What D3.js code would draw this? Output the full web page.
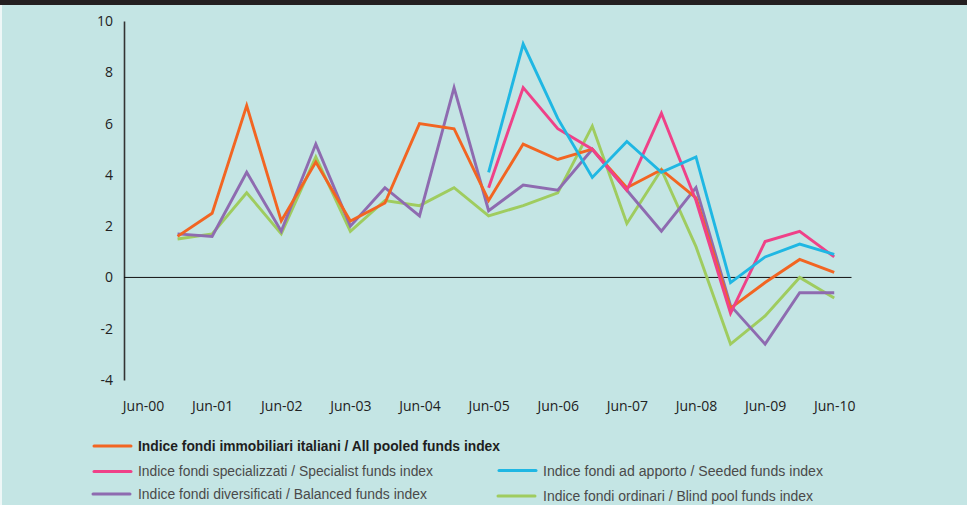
<!DOCTYPE html>
<html><head><meta charset="utf-8">
<script src="https://cdn.jsdelivr.net/npm/d3@7"></script>
<style>
html,body{margin:0;padding:0;background:#c4e5e4;}
svg{display:block;}
</style></head>
<body>
<svg id="c" width="967" height="505"></svg>
<script>
const periods = ["Jun-00","Dec-00","Jun-01","Dec-01","Jun-02","Dec-02","Jun-03","Dec-03","Jun-04","Dec-04","Jun-05","Dec-05","Jun-06","Dec-06","Jun-07","Dec-07","Jun-08","Dec-08","Jun-09","Dec-09","Jun-10"];
const xTickLabels = ["Jun-00","Jun-01","Jun-02","Jun-03","Jun-04","Jun-05","Jun-06","Jun-07","Jun-08","Jun-09","Jun-10"];
const yTicks = [-4,-2,0,2,4,6,8,10];

const allPooled  = [null,1.6,2.5,6.7,2.2,4.5,2.2,2.9,6.0,5.8,3.0,5.2,4.6,5.0,3.5,4.2,3.1,-1.2,-0.2,0.7,0.2];
const specialist = [null,null,null,null,null,null,null,null,null,null,3.5,7.4,5.8,5.0,3.4,6.4,3.0,-1.4,1.4,1.8,0.8];
const seeded     = [null,null,null,null,null,null,null,null,null,null,4.1,9.1,6.2,3.9,5.3,4.1,4.7,-0.2,0.8,1.3,0.9];
const balanced   = [null,1.7,1.6,4.1,1.8,5.2,2.0,3.5,2.4,7.4,2.6,3.6,3.4,5.0,3.4,1.8,3.5,-1.1,-2.6,-0.6,-0.6];
const blindPool  = [null,1.5,1.7,3.3,1.7,4.7,1.8,3.0,2.8,3.5,2.4,2.8,3.3,5.9,2.1,4.2,1.2,-2.6,-1.5,0.0,-0.8];

const seriesNames = [
  "Indice fondi immobiliari italiani / All pooled funds index",
  "Indice fondi specializzati / Specialist funds index",
  "Indice fondi ad apporto / Seeded funds index",
  "Indice fondi diversificati / Balanced funds index",
  "Indice fondi ordinari / Blind pool funds index"
];
const seriesColors = ["#f26522","#ef4188","#1fb7e3","#8e6bb0","#9fcc5f"];

const svg = d3.select("#c");
svg.append("rect").attr("x",0).attr("y",0).attr("width",967).attr("height",505).attr("fill","#c4e5e4");
svg.append("rect").attr("x",0).attr("y",0).attr("width",2).attr("height",505).attr("fill","#eef7f7");
svg.append("rect").attr("x",0).attr("y",0).attr("width",967).attr("height",5).attr("fill","#231f20");

const x = d3.scaleLinear().domain([-0.55, 20.5]).range([124, 851.5]);
const y = d3.scaleLinear().domain([-4, 10]).range([380, 21]);

const font = "'Open Sans', 'Noto Sans', sans-serif";

// y axis
const yAxis = d3.axisLeft(y).tickValues(yTicks).tickSize(0).tickPadding(11).tickFormat(d => String(d));
const ya = svg.append("g").attr("transform","translate(124,0)").call(yAxis);
ya.select(".domain").attr("stroke","#333").attr("stroke-width",1.6);
ya.selectAll("text").attr("font-family",font).attr("font-size",14).attr("fill","#222");

// zero line
svg.append("line").attr("x1",x(-0.55)).attr("x2",x(20.5)).attr("y1",y(0)).attr("y2",y(0))
  .attr("stroke","#111").attr("stroke-width",1);

// x axis labels
const xIdx = xTickLabels.map(l => periods.indexOf(l));
const xAxis = d3.axisBottom(x).tickValues(xIdx).tickSize(0).tickPadding(0)
  .tickFormat(i => periods[i]);
const xa = svg.append("g").attr("transform","translate(0,401)").call(xAxis);
xa.select(".domain").remove();
xa.selectAll("text").attr("font-family",font).attr("font-size",14).attr("fill","#222");

// lines
const allSeries = [allPooled, specialist, seeded, balanced, blindPool];
const line = d3.line().defined(d => d != null).x((d,i) => x(i)).y(d => y(d));
const order = [4,3,0,1,2];
order.forEach(k => {
  svg.append("path").datum(allSeries[k]).attr("d", line)
    .attr("fill","none").attr("stroke",seriesColors[k]).attr("stroke-width",2.9)
    .attr("stroke-linejoin","miter").attr("stroke-linecap","butt");
});

// legend
const lfont = "'Liberation Sans', Arial, sans-serif";
const legendPos = [
  {x:94,  y:446,   tx:138, by:451, w:362, bold:true},
  {x:94,  y:471.5, tx:138, by:476, w:295},
  {x:499, y:470.5, tx:543, by:475.5, w:280},
  {x:93,  y:494,   tx:138, by:499, w:289},
  {x:498, y:496,   tx:543, by:500.5, w:270}
];
legendPos.forEach((p,k) => {
  const g = svg.append("g");
  g.append("line").attr("x1",p.x).attr("x2",p.x+37).attr("y1",p.y).attr("y2",p.y)
    .attr("stroke",seriesColors[k]).attr("stroke-width",3).attr("stroke-linecap","round");
  g.append("text").attr("x",p.tx).attr("y",p.by).text(seriesNames[k])
    .attr("font-family",lfont).attr("font-size",14)
    .attr("fill", p.bold ? "#1e1e1e" : "#4a4a4a")
    .attr("font-weight", p.bold ? 600 : 400)
    .attr("textLength", p.w).attr("lengthAdjust","spacingAndGlyphs");
});
</script>
</body></html>
